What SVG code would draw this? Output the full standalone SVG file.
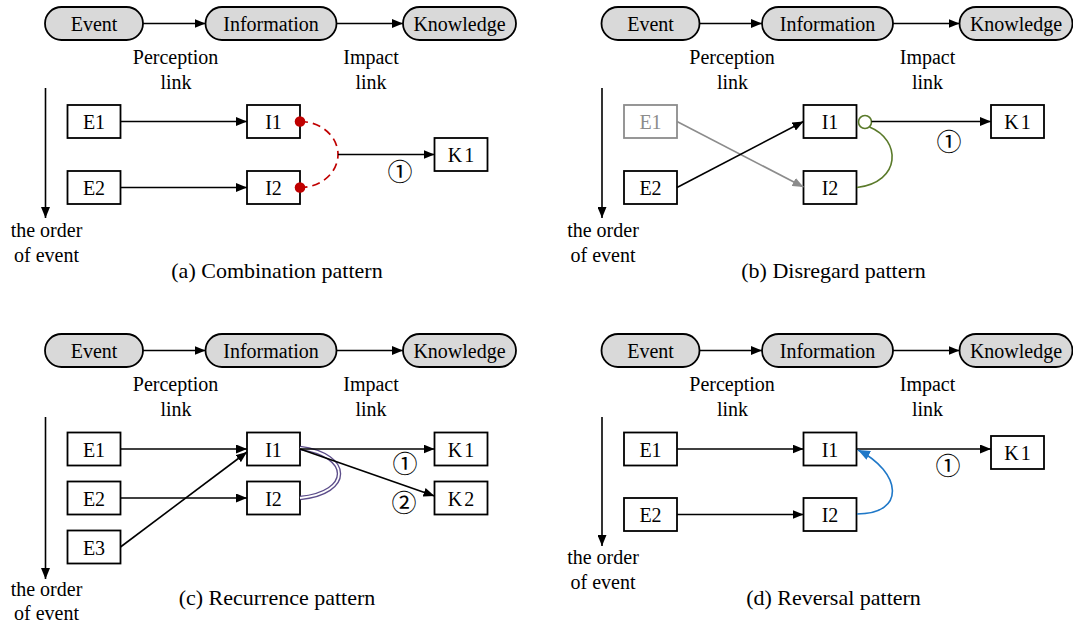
<svg xmlns="http://www.w3.org/2000/svg" width="1073" height="622" viewBox="0 0 1073 622">
<style>
.pill{fill:#d9d9d9;stroke:#000;stroke-width:1.8}
.box{fill:#fff;stroke:#000;stroke-width:1.8}
.gbox{fill:#fff;stroke:#8c8c8c;stroke-width:1.8}
.t{font-family:"Liberation Serif","Times New Roman",serif;font-size:20px;fill:#000;text-anchor:middle}
.g{fill:#8c8c8c}
.cap{font-size:22px}
.ln{stroke:#000;stroke-width:1.6;fill:none}
.arr{marker-end:url(#ah)}
.num{font-family:"Noto Sans CJK SC","DejaVu Sans",sans-serif;font-size:25px;fill:#000;text-anchor:middle;text-rendering:geometricPrecision;opacity:0.99}
</style>
<defs>
<marker id="ah" viewBox="0 0 11 9" refX="11" refY="4.5" markerWidth="11" markerHeight="9" markerUnits="userSpaceOnUse" orient="auto"><path d="M0,0 L11,4.5 L0,9 z" fill="#000"/></marker>
<marker id="ahg" viewBox="0 0 11 9" refX="11" refY="4.5" markerWidth="11" markerHeight="9" markerUnits="userSpaceOnUse" orient="auto"><path d="M0,0 L11,4.5 L0,9 z" fill="#8c8c8c"/></marker>
<marker id="ahb" viewBox="0 0 11 9" refX="11" refY="4.5" markerWidth="12" markerHeight="10" markerUnits="userSpaceOnUse" orient="auto"><path d="M0,0 L11,4.5 L0,9 z" fill="#1f78c8"/></marker>
</defs>
<rect width="1073" height="622" fill="#fff"/>

<!-- Panel (a) -->
<g id="panel-a">
  <g id="a-event"><rect class="pill" x="45" y="7" width="98" height="33" rx="16.5"/><text class="t" x="94" y="30.5">Event</text></g>
  <g id="a-information"><rect class="pill" x="205.5" y="7" width="131" height="33" rx="16.5"/><text class="t" x="271" y="30.5">Information</text></g>
  <g id="a-knowledge"><rect class="pill" x="403" y="7" width="113" height="33" rx="16.5"/><text class="t" x="459.5" y="30.5">Knowledge</text></g>
  <g id="a-e1"><rect class="box" x="67.5" y="105" width="53" height="33"/><text class="t" x="94" y="129">E1</text></g>
  <g id="a-e2"><rect class="box" x="67.5" y="171" width="53" height="33"/><text class="t" x="94" y="195">E2</text></g>
  <g id="a-i1"><rect class="box" x="247" y="105" width="53" height="33"/><text class="t" x="273.5" y="129">I1</text></g>
  <g id="a-i2"><rect class="box" x="247" y="171" width="53" height="33"/><text class="t" x="273.5" y="195">I2</text></g>
  <g id="a-k1"><rect class="box" x="434.5" y="138" width="53" height="33"/><text class="t" x="462" y="162" letter-spacing="2">K1</text></g>
  <g id="a-connectors">
    <line class="ln arr" x1="143" y1="23.5" x2="205.5" y2="23.5"/>
    <line class="ln arr" x1="336.5" y1="23.5" x2="403" y2="23.5"/>
    <line class="ln arr" x1="45.5" y1="88" x2="45.5" y2="218"/>
    <line class="ln arr" x1="120.5" y1="121.5" x2="247" y2="121.5"/>
    <line class="ln arr" x1="120.5" y1="187.5" x2="247" y2="187.5"/>
    <path d="M300,121.5 A38 33 0 0 1 300,187.5" fill="none" stroke="#c00000" stroke-width="1.7" stroke-dasharray="8 5"/>
    <circle cx="300" cy="121.5" r="5.3" fill="#c00000"/>
    <circle cx="300" cy="187.5" r="5.3" fill="#c00000"/>
    <line class="ln arr" x1="338" y1="154.5" x2="434.5" y2="154.5"/>
  </g>
  <text class="t" x="175.6" y="64">Perception</text><text class="t" x="176" y="89">link</text>
  <text class="t" x="371" y="64">Impact</text><text class="t" x="371" y="89">link</text>
  <text class="num" x="400" y="181">①</text>
  <text class="t" x="46.5" y="237">the order</text><text class="t" x="46.5" y="262">of event</text>
  <text class="t cap" x="277" y="278">(a) Combination pattern</text>
</g>

<!-- Panel (b) -->
<g id="panel-b" transform="translate(556.5,0)">
  <g id="b-event"><rect class="pill" x="45" y="7" width="98" height="33" rx="16.5"/><text class="t" x="94" y="30.5">Event</text></g>
  <g id="b-information"><rect class="pill" x="205.5" y="7" width="131" height="33" rx="16.5"/><text class="t" x="271" y="30.5">Information</text></g>
  <g id="b-knowledge"><rect class="pill" x="403" y="7" width="113" height="33" rx="16.5"/><text class="t" x="459.5" y="30.5">Knowledge</text></g>
  <g id="b-e1"><rect class="gbox" x="67.5" y="105" width="53" height="33"/><text class="t g" x="94" y="129">E1</text></g>
  <g id="b-e2"><rect class="box" x="67.5" y="171" width="53" height="33"/><text class="t" x="94" y="195">E2</text></g>
  <g id="b-i1"><rect class="box" x="247" y="105" width="53" height="33"/><text class="t" x="273.5" y="129">I1</text></g>
  <g id="b-i2"><rect class="box" x="247" y="171" width="53" height="33"/><text class="t" x="273.5" y="195">I2</text></g>
  <g id="b-k1"><rect class="box" x="434.5" y="105" width="53" height="33"/><text class="t" x="462" y="129" letter-spacing="2">K1</text></g>
  <g id="b-connectors">
    <line class="ln arr" x1="143" y1="23.5" x2="205.5" y2="23.5"/>
    <line class="ln arr" x1="336.5" y1="23.5" x2="403" y2="23.5"/>
    <line class="ln arr" x1="45.5" y1="88" x2="45.5" y2="218"/>
    <line x1="120.5" y1="121.5" x2="247" y2="187" stroke="#8c8c8c" stroke-width="1.6" marker-end="url(#ahg)"/>
    <line class="ln arr" x1="120.5" y1="187.5" x2="247" y2="121.5"/>
    <path d="M313,127 C345,140 345,182 300.5,187.5" fill="none" stroke="#5a7a2a" stroke-width="1.6"/>
    <circle cx="308.5" cy="122" r="6.5" fill="none" stroke="#5a7a2a" stroke-width="1.6"/>
    <line class="ln arr" x1="315" y1="121.5" x2="434.5" y2="121.5"/>
  </g>
  <text class="t" x="175.6" y="64">Perception</text><text class="t" x="176" y="89">link</text>
  <text class="t" x="371" y="64">Impact</text><text class="t" x="371" y="89">link</text>
  <text class="num" x="392.5" y="151">①</text>
  <text class="t" x="46.5" y="237">the order</text><text class="t" x="46.5" y="262">of event</text>
  <text class="t cap" x="277" y="278">(b) Disregard pattern</text>
</g>

<!-- Panel (c) -->
<g id="panel-c" transform="translate(0,327)">
  <g id="c-event"><rect class="pill" x="45" y="7" width="98" height="33" rx="16.5"/><text class="t" x="94" y="30.5">Event</text></g>
  <g id="c-information"><rect class="pill" x="205.5" y="7" width="131" height="33" rx="16.5"/><text class="t" x="271" y="30.5">Information</text></g>
  <g id="c-knowledge"><rect class="pill" x="403" y="7" width="113" height="33" rx="16.5"/><text class="t" x="459.5" y="30.5">Knowledge</text></g>
  <g id="c-e1"><rect class="box" x="67.5" y="105.5" width="53" height="33"/><text class="t" x="94" y="129.5">E1</text></g>
  <g id="c-e2"><rect class="box" x="67.5" y="154.5" width="53" height="33"/><text class="t" x="94" y="178.5">E2</text></g>
  <g id="c-e3"><rect class="box" x="67.5" y="203.5" width="53" height="33"/><text class="t" x="94" y="227.5">E3</text></g>
  <g id="c-i1"><rect class="box" x="247" y="105.5" width="53" height="33"/><text class="t" x="273.5" y="129.5">I1</text></g>
  <g id="c-i2"><rect class="box" x="247" y="154.5" width="53" height="33"/><text class="t" x="273.5" y="178.5">I2</text></g>
  <g id="c-k1"><rect class="box" x="434.5" y="105.5" width="53" height="33"/><text class="t" x="462" y="129.5" letter-spacing="2">K1</text></g>
  <g id="c-k2"><rect class="box" x="434.5" y="154.5" width="53" height="33"/><text class="t" x="462" y="178.5" letter-spacing="2">K2</text></g>
  <g id="c-connectors">
    <line class="ln arr" x1="143" y1="23.5" x2="205.5" y2="23.5"/>
    <line class="ln arr" x1="336.5" y1="23.5" x2="403" y2="23.5"/>
    <line class="ln arr" x1="45.5" y1="90" x2="45.5" y2="252"/>
    <line class="ln arr" x1="120.5" y1="122" x2="247" y2="122"/>
    <line class="ln arr" x1="120.5" y1="171" x2="247" y2="171"/>
    <line class="ln arr" x1="120.5" y1="220" x2="247" y2="125"/>
    <path d="M300,121 C352,128 352,166 300,171" fill="none" stroke="#5c4d8a" stroke-width="4.5"/>
    <path d="M300,121 C352,128 352,166 300,171" fill="none" stroke="#fff" stroke-width="1.8"/>
    <line class="ln arr" x1="300" y1="122" x2="434.5" y2="122"/>
    <line class="ln arr" x1="300" y1="122" x2="434.5" y2="169"/>
  </g>
  <text class="t" x="175.6" y="64">Perception</text><text class="t" x="176" y="89">link</text>
  <text class="t" x="371" y="64">Impact</text><text class="t" x="371" y="89">link</text>
  <text class="num" x="405" y="146">①</text>
  <text class="num" x="404" y="185">②</text>
  <text class="t" x="46.5" y="269">the order</text><text class="t" x="46.5" y="293">of event</text>
  <text class="t cap" x="277" y="278">(c) Recurrence pattern</text>
</g>

<!-- Panel (d) -->
<g id="panel-d" transform="translate(556.5,327)">
  <g id="d-event"><rect class="pill" x="45" y="7" width="98" height="33" rx="16.5"/><text class="t" x="94" y="30.5">Event</text></g>
  <g id="d-information"><rect class="pill" x="205.5" y="7" width="131" height="33" rx="16.5"/><text class="t" x="271" y="30.5">Information</text></g>
  <g id="d-knowledge"><rect class="pill" x="403" y="7" width="113" height="33" rx="16.5"/><text class="t" x="459.5" y="30.5">Knowledge</text></g>
  <g id="d-e1"><rect class="box" x="67.5" y="105.5" width="53" height="33"/><text class="t" x="94" y="129.5">E1</text></g>
  <g id="d-e2"><rect class="box" x="67.5" y="171" width="53" height="33"/><text class="t" x="94" y="195">E2</text></g>
  <g id="d-i1"><rect class="box" x="247" y="105.5" width="53" height="33"/><text class="t" x="273.5" y="129.5">I1</text></g>
  <g id="d-i2"><rect class="box" x="247" y="171" width="53" height="33"/><text class="t" x="273.5" y="195">I2</text></g>
  <g id="d-k1"><rect class="box" x="434.5" y="109" width="53" height="33"/><text class="t" x="462" y="133" letter-spacing="2">K1</text></g>
  <g id="d-connectors">
    <line class="ln arr" x1="143" y1="23.5" x2="205.5" y2="23.5"/>
    <line class="ln arr" x1="336.5" y1="23.5" x2="403" y2="23.5"/>
    <line class="ln arr" x1="45.5" y1="90" x2="45.5" y2="219"/>
    <line class="ln arr" x1="120.5" y1="122" x2="247" y2="122"/>
    <line class="ln arr" x1="120.5" y1="187.5" x2="247" y2="187.5"/>
    <line class="ln arr" x1="300" y1="122" x2="434.5" y2="122"/>
    <path d="M300.5,187 C350,187 345,145 301.5,123" fill="none" stroke="#1f78c8" stroke-width="1.6" marker-end="url(#ahb)"/>
  </g>
  <text class="t" x="175.6" y="64">Perception</text><text class="t" x="176" y="89">link</text>
  <text class="t" x="371" y="64">Impact</text><text class="t" x="371" y="89">link</text>
  <text class="num" x="391.5" y="148">①</text>
  <text class="t" x="46.5" y="237">the order</text><text class="t" x="46.5" y="262">of event</text>
  <text class="t cap" x="277" y="278">(d) Reversal pattern</text>
</g>
</svg>
